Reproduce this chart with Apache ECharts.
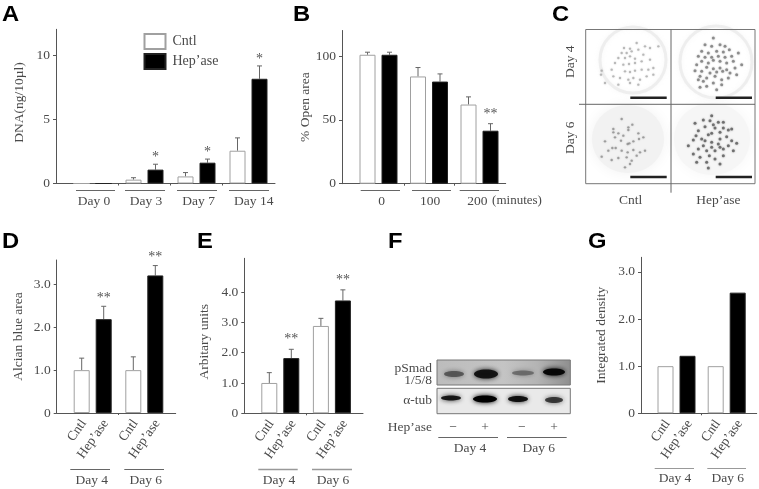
<!DOCTYPE html>
<html><head><meta charset="utf-8">
<style>html,body{margin:0;padding:0;background:#fff}#c{width:759px;height:489px;filter:blur(.35px)}</style>
<script src="https://cdn.jsdelivr.net/npm/echarts@6/dist/echarts.min.js"></script>
</head><body><div id="c"></div>
<script>
// ---------- data ----------
const daysA = ['Day 0','Day 3','Day 7','Day 14'];
const cntlA = [0,0.3,0.55,2.55], cntlErrA = [0,0.45,0.85,3.55];
const hepA  = [0,1.08,1.62,8.15], hepErrA = [0,1.5,1.9,9.15];
const starsA = ['','*','*','*'];
const minsB = ['0','100','200'];
const cntlB = [101,84,62], cntlErrB = [103,91,68];
const hepB  = [101,80,41.5], hepErrB = [103,86,47];
const starsB = ['','','**'];
const daysDEG = ['Day 4','Day 6'];
const treat = ['Cntl','Hep\u2019ase'];
const cntlD = [1.0,1.0], cntlErrD = [1.28,1.31];
const hepD  = [2.19,3.21], hepErrD = [2.49,3.44];
const starsD = ['**','**'];
const cntlE = [1.0,2.88], cntlErrE = [1.34,3.13];
const hepE  = [1.82,3.72], hepErrE = [2.11,4.07];
const starsE = ['**','**'];
const cntlG = [1.0,1.0];
const hepG  = [1.22,2.56];
const ticksA=[0,5,10], ticksB=[0,50,100], ticksD=[0,1,2,3], ticksE=[0,1,2,3,4], ticksG=[0,1,2,3];
// panel C: spots (crop units, 3 per pixel)
const spotsC4 = [[117,60],[135,62],[155,45],[110,75],[125,75],[140,70],[160,65],[180,55],[195,60],[100,90],[120,90],[135,85],[150,92],[175,80],[90,105],[115,110],[132,108],[150,105],[170,100],[195,95],[220,55],[120,130],[135,132],[150,128],[170,125],[190,125],[205,120],[80,125],[50,128],[48,140],[85,145],[105,150],[130,155],[145,150],[165,155],[185,145],[205,140],[60,165],[100,170],[135,165],[160,170]];
const spotsH4 = [[130,30],[150,50],[165,55],[105,50],[125,55],[95,70],[115,75],[140,70],[160,72],[178,65],[85,85],[105,88],[125,88],[145,85],[165,88],[185,85],[205,75],[95,100],[115,105],[130,97],[150,100],[170,105],[190,100],[80,110],[110,118],[130,122],[150,120],[170,125],[195,120],[215,110],[75,128],[95,130],[120,135],[140,132],[158,130],[180,135],[90,145],[110,150],[135,145],[155,155],[175,150],[200,140],[100,160],[130,165],[155,170],[110,175],[90,178],[140,185],[85,155]];
const spotsC6 = [[110,45],[130,70],[142,62],[85,75],[100,88],[115,95],[130,78],[160,88],[60,112],[90,100],[108,110],[128,120],[133,118],[145,112],[162,105],[175,100],[82,132],[92,132],[70,140],[110,140],[128,145],[145,138],[165,145],[80,168],[100,162],[125,160],[140,170],[155,155],[180,140],[120,190],[135,180],[50,158],[85,85]];
const spotsH6 = [[125,35],[100,48],[120,50],[145,55],[130,62],[160,55],[75,58],[105,68],[135,72],[160,72],[185,75],[175,78],[85,80],[115,92],[125,88],[150,85],[78,95],[170,98],[95,105],[105,110],[125,115],[150,105],[185,110],[70,108],[200,118],[100,125],[125,130],[145,120],[150,130],[175,125],[55,125],[85,135],[110,140],[135,140],[160,135],[190,140],[70,150],[90,160],[118,155],[135,165],[160,155],[80,175],[110,175],[150,180],[115,192]];

// ---------- style ----------
const SERIF='"Liberation Serif","Times New Roman",serif', SANS='"Liberation Sans",Arial,sans-serif';
const INK='#4a4a4a', AX='#555', FS=13.5;
const grids=[],xAxes=[],yAxes=[],series=[];
const BW=16, GAP=6;

function panel(p){
  const idx=grids.length, H=p.bottom-p.top;
  grids.push({left:p.left,top:p.top,width:p.right-p.left,height:H});
  const off=(BW+GAP)/2/p.band, nudge=2/p.band;
  let lv,lt,rot=0;
  const n=p.cntl.length;
  if(p.rotated){
    lv=[];lt=[];
    for(let i=0;i<n;i++){lv.push(i-off+nudge,i+off+nudge);lt.push(treat[0],treat[1]);}
    rot=55;
  } else { lv=p.labelAt; lt=p.labels; }
  const mids=[];for(let i=0;i<n-1;i++)mids.push(i+0.5);
  xAxes.push({gridIndex:idx,type:'value',min:-(p.c0-p.left)/p.band,max:(p.right-p.c0)/p.band,
    splitLine:{show:false},
    axisLine:{onZero:false,lineStyle:{color:AX,width:1}},
    axisTick:{customValues:mids,length:2,lineStyle:{color:AX}},
    axisLabel:{customValues:lv,rotate:rot,margin:p.rotated?8:11,color:INK,fontFamily:SERIF,fontSize:FS,hideOverlap:false,
      formatter:v=>{let b=0;lv.forEach((x,i)=>{if(Math.abs(x-v)<Math.abs(lv[b]-v))b=i;});return lt[b];}}});
  yAxes.push({gridIndex:idx,type:'value',min:0,max:p.max,name:p.title,nameLocation:'middle',nameRotate:90,
    nameMoveOverlap:false,
    nameGap:p.nameGap,nameTextStyle:{color:INK,fontFamily:SERIF,fontSize:FS,padding:p.namePad||0},
    splitLine:{show:false},
    axisLine:{show:true,onZero:false,lineStyle:{color:AX,width:1}},
    axisTick:{show:true,customValues:p.ticks,length:3,lineStyle:{color:AX}},
    axisLabel:{customValues:p.ticks,margin:6,color:INK,fontFamily:SERIF,fontSize:FS,
      formatter:v=>(v===0||p.intTicks)?String(v):v.toFixed(1)}});
  const bar=(name,d,fill,border)=>({name,type:'bar',xAxisIndex:idx,yAxisIndex:idx,barWidth:BW,barGap:(GAP/BW*100)+'%',
    data:d.map((v,i)=>[i,v]),itemStyle:{color:fill,borderColor:border,borderWidth:1},silent:true,z:3});
  series.push(bar(treat[0],p.cntl,'#fff','#a0a0a0'));
  series.push(bar(treat[1],p.hep,'#000','#222'));
  const err=(vals,tops,side,stars)=>{ if(!tops)return;
    series.push({name:'err',type:'custom',xAxisIndex:idx,yAxisIndex:idx,silent:true,z:2,clip:false,
      data:vals.map((v,i)=>[i,v,tops[i]]),encode:{x:0,y:[1,2]},
      renderItem:(params,api)=>{
        const i=api.value(0),top=api.value(2),val=api.value(1);
        const a=api.coord([i,val]),b=api.coord([i,top]);
        const x=a[0]+side*(BW+GAP)/2, kids=[];
        if(top>val){
          const st={stroke:'#666',lineWidth:1,fill:null};
          kids.push({type:'line',shape:{x1:x,y1:a[1],x2:x,y2:b[1]},style:st});
          kids.push({type:'line',shape:{x1:x-2.5,y1:b[1],x2:x+2.5,y2:b[1]},style:st});
        }
        const s=stars&&stars[params.dataIndex];
        if(s)kids.push({type:'text',style:{text:s,x:x,y:b[1]-(p.starGap||7),align:'center',verticalAlign:'middle',
          fill:'#555',font:'14px '+SERIF}});
        return {type:'group',children:kids};
      }});
  };
  err(p.cntl,p.cntlErr,-1,null);
  err(p.hep,p.hepErr,1,p.stars);
}

panel({left:56,right:275,top:29.3,bottom:183.5,c0:92.5,band:52,max:12,ticks:ticksA,intTicks:true,title:'DNA(ng/10\u00b5l)',nameGap:30,namePad:[0,0,0,8],
  cntl:cntlA,cntlErr:cntlErrA,hep:hepA,hepErr:hepErrA,stars:starsA,labels:daysA,labelAt:[0.03,1.03,2.04,3.1]});
panel({left:342,right:505.7,top:30.5,bottom:183.7,c0:378.5,band:50.5,max:120,ticks:ticksB,intTicks:true,title:'% Open area',nameGap:30,
  cntl:cntlB,cntlErr:cntlErrB,hep:hepB,hepErr:hepErrB,stars:starsB,labels:minsB,labelAt:[0.06,1.02,1.96],starGap:9});
panel({left:56.7,right:175.7,top:260,bottom:413,c0:92.7,band:51.6,max:3.57,ticks:ticksD,title:'Alcian blue area',nameGap:31,rotated:true,
  cntl:cntlD,cntlErr:cntlErrD,hep:hepD,hepErr:hepErrD,stars:starsD,starGap:8});
panel({left:244.3,right:363,top:258.3,bottom:413.3,c0:280.3,band:51.6,max:5.11,ticks:ticksE,title:'Arbitary units',nameGap:33,namePad:[0,12,0,0],rotated:true,
  cntl:cntlE,cntlErr:cntlErrE,hep:hepE,hepErr:hepErrE,stars:starsE,starGap:9.5});
panel({left:641,right:756.7,top:257.3,bottom:413.3,c0:676.5,band:50.2,max:3.31,ticks:ticksG,title:'Integrated density',nameGap:33,rotated:true,
  cntl:cntlG,hep:hepG});

// panel C spots, one hidden grid per micrograph
function spots(d,left,top,w,h,col,size){
  const idx=grids.length;
  grids.push({left,top,width:w,height:h});
  xAxes.push({gridIndex:idx,type:'value',min:0,max:w*3,show:false});
  yAxes.push({gridIndex:idx,type:'value',min:0,max:h*3,inverse:true,show:false});
  series.push({name:'spots',type:'scatter',xAxisIndex:idx,yAxisIndex:idx,data:d,symbolSize:size,silent:true,
    itemStyle:{color:col,opacity:1,shadowBlur:2,shadowColor:col},z:2});
}
spots(spotsC4,585,28,88,78,'rgba(150,150,150,.6)',2.4);
spots(spotsH4,670,28,88,78,'rgba(110,110,110,.7)',3);
spots(spotsC6,585,104,88,80,'rgba(125,125,125,.65)',2.4);
spots(spotsH6,670,104,88,80,'rgba(85,85,85,.75)',3);

// ---------- annotations ----------
const g=[];
const line=(x1,y1,x2,y2,c,w,z)=>g.push({type:'line',silent:true,z:z||5,shape:{x1,y1,x2,y2},style:{stroke:c||'#666',lineWidth:w||1}});
const text=(s,x,y,o)=>{o=o||{};g.push({type:'text',silent:true,z:6,x,y,rotation:o.rot||0,scaleX:o.sx||1,style:{text:s,x:0,y:0,fill:o.c||INK,
  font:(o.w||'normal')+' '+(o.fs||FS)+'px '+(o.ff||SERIF),align:o.a||'center',verticalAlign:'middle'}})};
[['A',2,15],['B',293,15],['C',552,15],['D',2,242],['E',197,242],['F',388,242],['G',588,242]].forEach(a=>
  text(a[0],a[1],a[2],{a:'left',ff:SANS,w:'bold',fs:22,c:'#000',sx:1.08}));
// group rules
[[76,115],[125,165],[177,217],[229,269]].forEach(r=>line(r[0],190.5,r[1],190.5));
[[360.7,400],[412,451],[459.7,499]].forEach(r=>line(r[0],190.5,r[1],190.5));
text('(minutes)',517,201,{fs:13});
[[70.3,110],[124.3,164]].forEach(r=>line(r[0],469.5,r[1],469.5));
text(daysDEG[0],91.7,480);text(daysDEG[1],145.7,480);
[[258.3,297.7],[312,352]].forEach(r=>line(r[0],469.5,r[1],469.5,'#999',1.5));
text(daysDEG[0],279,480.5);text(daysDEG[1],333,480.5);
[[654.7,694],[707.3,746]].forEach(r=>line(r[0],468.5,r[1],468.5,'#999',1));
text(daysDEG[0],675,478.5);text(daysDEG[1],727.7,478.5);

// panel C frame
const ring=(cx,cy,r)=>g.push({type:'ellipse',silent:true,z:-1,shape:{cx,cy,rx:r,ry:r},style:{fill:null,stroke:'rgba(225,225,225,.5)',lineWidth:3,shadowBlur:4,shadowColor:'rgba(225,225,225,.5)'}});
const haze=(cx,cy,rx,ry,c)=>g.push({type:'ellipse',silent:true,z:-1,shape:{cx,cy,rx,ry},style:{fill:c,shadowBlur:14,shadowColor:c}});
ring(633,60,33);ring(716,62,36);
haze(628,139,36,34,'#f2f2f2');haze(712,139,38,36,'#f6f6f6');
line(585.7,29.5,755,29.5,'#777',1);line(585.7,183.7,755,183.7,'#777',1);
line(585.7,29.5,585.7,183.7,'#777',1);line(755,29.5,755,183.7,'#777',1);
line(671,29.5,671,192.7,'#666',1);line(579,104.3,755,104.3,'#666',1);
[[630.3,666.7,97.7],[715.7,752,97.7],[630.3,666.7,177],[715.7,752,177]].forEach(b=>line(b[0],b[2],b[1],b[2],'#222',2.4));
text('Day 4',570.5,61.7,{rot:Math.PI/2});text('Day 6',570,137.7,{rot:Math.PI/2});
text(treat[0],630.7,200.7);text(treat[1],718.3,200.7);

// panel F blot
const band=(cx,cy,rx,ry,c)=>g.push({type:'ellipse',silent:true,z:3,shape:{cx,cy,rx,ry},style:{fill:c,shadowBlur:5,shadowColor:c}});
g.push({type:'rect',silent:true,z:2,shape:{x:437,y:360,width:133.3,height:25},style:{stroke:'#777',lineWidth:1,fill:{type:'linear',x:0,y:0,x2:1,y2:0,colorStops:[{offset:0,color:'#bcbcbc'},{offset:.5,color:'#c4c4c4'},{offset:.75,color:'#b4b4b4'},{offset:1,color:'#8e8e8e'}]}}});
g.push({type:'rect',silent:true,z:2,shape:{x:437,y:388.3,width:133.3,height:25.4},style:{stroke:'#777',lineWidth:1,fill:'#e9e9e9'}});
band(454,374,10,3,'rgba(70,70,70,.8)');band(486,374,12,4.5,'rgba(15,15,15,.95)');band(523,373,11,2.5,'rgba(90,90,90,.75)');band(554,372,11,3.5,'rgba(5,5,5,.98)');
band(451,398,10,2.5,'rgba(10,10,10,.9)');band(485,399,12,3.5,'rgba(0,0,0,1)');band(518,399,10,3,'rgba(10,10,10,.95)');band(554,400,9,3,'rgba(30,30,30,.8)');
text('pSmad',432,368,{a:'right'});text('1/5/8',432,380,{a:'right'});text('\u03b1-tub',432,400,{a:'right'});
text(treat[1],432,427,{a:'right'});
['\u2212','+','\u2212','+'].forEach((s,i)=>text(s,[453,485,521.7,554][i],427));
line(438.3,437.5,498,437.5);line(507,437.5,566.7,437.5);
text(daysDEG[0],470,448);text(daysDEG[1],538.7,448);

const chart=echarts.init(document.getElementById('c'),null,{renderer:'canvas'});
chart.setOption({animation:false,backgroundColor:'#fff',
  legend:{data:treat.map(n=>({name:n,icon:'rect'})),orient:'vertical',padding:0,left:143.5,top:33,itemWidth:21,itemHeight:15,itemGap:3,
    selectedMode:false,textStyle:{color:INK,fontFamily:SERIF,fontSize:14,padding:[0,0,0,2]}},
  grid:grids,xAxis:xAxes,yAxis:yAxes,series,graphic:{elements:g}});
</script></body></html>
